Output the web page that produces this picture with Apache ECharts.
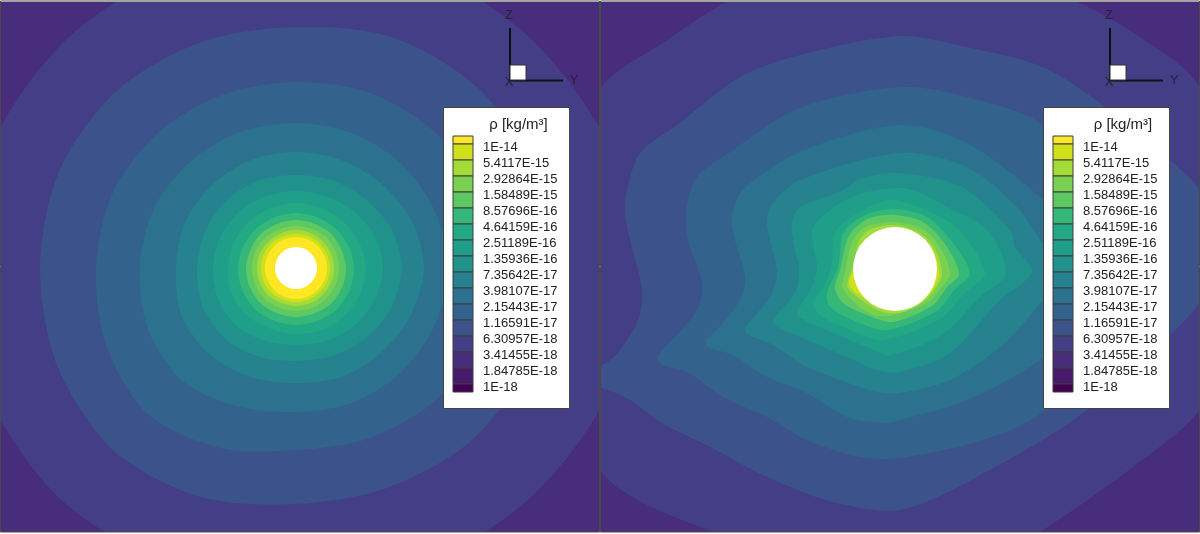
<!DOCTYPE html>
<html>
<head>
<meta charset="utf-8">
<style>
  html, body { margin: 0; padding: 0; background: #fff; }
  #chart { width: 1200px; height: 534px; }
</style>
<script src="https://cdn.jsdelivr.net/npm/echarts@6/dist/echarts.min.js"></script>
</head>
<body>
<div id="chart"></div>
<script>
// colorbar, top to bottom
const legendLabels = ["1E-14", "5.4117E-15", "2.92864E-15", "1.58489E-15", "8.57696E-16", "4.64159E-16",
    "2.51189E-16", "1.35936E-16", "7.35642E-17", "3.98107E-17", "2.15443E-17", "1.16591E-17",
    "6.30957E-18", "3.41455E-18", "1.84785E-18", "1E-18"];
const legendColors = ["#fde725", "#d0e11c", "#a5db36", "#7ad151", "#5ec962", "#35b779", "#22a884", "#1f9e89",
    "#21918c", "#26828e", "#2c728e", "#33638d", "#3b528b", "#433e85", "#472d7b", "#481a6c", "#440154"];

// fill inside each contour, outermost first
const cornerColor = "#472d7b";
const bandColors = ["#433e85", "#3b528b", "#33638d", "#2c728e", "#26828e", "#21918c", "#1f9e89", "#22a884",
    "#35b779", "#5ec962", "#7ad151", "#a5db36", "#d0e11c", "#fde725"];

const sphereRadius = [21, 42];

// left plot: contour radius read at fixed azimuths (deg, counter-clockwise from +Y)
const azimuths = [0, 22.5, 45, 67.5, 90, 112.5, 135, 157.5, 180, 202.5, 225, 247.5, 270, 292.5, 315, 337.5];
const leftRadii = [
    [340, 335, 328, 324, 322, 321, 324, 328, 330, 333, 330, 322, 320, 322, 328, 336],
    [262, 259, 256, 250, 241, 245, 252, 256, 256, 258, 258, 248, 236, 238, 246, 252],
    [205, 200, 194, 190, 186, 188, 193, 198, 200, 205, 208, 195, 182, 185, 192, 200],
    [152, 150, 148, 146, 145, 147, 150, 154, 156, 160, 160, 150, 144, 146, 148, 150],
    [128, 125, 120, 117, 116, 117, 118, 120, 120, 124, 122, 118, 115, 118, 120, 124],
    [106, 103, 98, 95, 93, 95, 97, 98, 99, 101, 100, 96, 93, 95, 99, 103],
    [87, 85, 81, 78, 77, 78, 80, 82, 83, 84, 83, 79, 77, 79, 82, 85],
    [70, 68, 66, 65, 65, 65, 66, 67, 68, 69, 68, 66, 66, 67, 68, 69],
    [58, 57, 56, 55, 55, 55, 56, 57, 58, 58, 58, 57, 57, 57, 58, 58],
    [50, 49, 49, 48, 48, 48, 49, 49, 50, 50, 50, 49, 49, 49, 50, 50],
    [43, 43, 43, 42, 42, 42, 43, 44, 44, 44, 44, 43, 43, 43, 43, 43],
    [38, 38, 38, 38, 38, 38, 38, 39, 39, 39, 39, 38, 38, 38, 38, 38],
    [34, 34, 34, 34, 34, 34, 35, 35, 35, 35, 35, 34, 34, 34, 34, 34],
    [31, 31, 31, 31, 31, 31, 31, 31, 31, 31, 31, 31, 31, 31, 31, 31]
];

// right plot: contour vertices as [y, z] around the sphere centre
const rightA = [[345, 30], [305, 181], [245, 232], [178, 269], [60, 310], [-60, 310], [-165, 269], [-228, 229], [-295, 181], [-345, 80], [-360, -60], [-295, -201], [-252, -234], [-176, -265], [-60, -310], [60, -310], [145, -263], [238, -198], [305, -141], [345, -60]];
const rightB = [[330, 25], [305, 79], [275, 109], [205, 166], [148, 202], [72, 222], [5, 233], [-95, 214], [-155, 192], [-218, 144], [-255, 116], [-268, 79], [-270, 56], [-265, 29], [-253, -21], [-257, -51], [-275, -81], [-293, -96], [-335, -108], [-293, -119], [-265, -131], [-235, -153], [-185, -178], [-128, -208], [-62, -233], [5, -241], [82, -208], [192, -141], [305, -34]];
const rightC = [[235, -2], [200, 75], [148, 144], [72, 172], [5, 182], [-95, 161], [-162, 119], [-198, 92], [-208, 62], [-207, 29], [-193, -14], [-198, -41], [-235, -84], [-238, -88], [-232, -96], [-208, -103], [-172, -128], [-128, -148], [-88, -171], [-35, -188], [5, -189], [88, -171], [148, -143], [200, -80]];
const rightD = [[195, -5], [170, 40], [148, 69], [72, 126], [5, 144], [-95, 117], [-152, 79], [-163, 52], [-160, 29], [-150, -8], [-155, -31], [-178, -61], [-188, -71], [-187, -78], [-162, -86], [-128, -108], [-88, -124], [-48, -148], [-12, -154], [5, -151], [72, -131], [148, -88], [175, -45]];
const rightE = [[165, -3], [145, 29], [122, 62], [72, 102], [5, 116], [-95, 89], [-122, 66], [-128, 49], [-125, 29], [-118, -4], [-125, -28], [-150, -59], [-148, -65], [-122, -76], [-92, -96], [-55, -111], [-18, -123], [5, -124], [55, -111], [105, -78], [148, -31]];
const rightF = [[137, -3], [120, 22], [115, 39], [67, 82], [5, 96], [-32, 91], [-58, 76], [-95, 62], [-103, 47], [-102, 29], [-96, -1], [-100, -24], [-122, -51], [-118, -58], [-88, -71], [-48, -88], [-18, -101], [5, -103], [55, -84], [105, -31]];
const rightG = [[111, -4], [92, 39], [52, 62], [18, 79], [0, 81], [-32, 76], [-58, 64], [-82, 42], [-82, 22], [-78, 2], [-83, -18], [-98, -43], [-95, -49], [-62, -64], [-28, -78], [-5, -86], [48, -65], [85, -28]];
const rightH = [[90, -4], [65, 38], [38, 56], [0, 69], [-22, 64], [-48, 49], [-60, 36], [-63, 6], [-70, -15], [-82, -34], [-75, -46], [-45, -61], [-12, -71], [45, -50], [70, -24]];
const rightI = [[75, -5], [58, 26], [32, 52], [0, 60], [-25, 56], [-45, 44], [-53, 32], [-57, 2], [-68, -24], [-65, -38], [-38, -53], [-8, -61], [42, -42], [60, -20]];
const rightJ = [[64, -5], [50, 25], [28, 47], [0, 54], [-25, 51], [-40, 41], [-48, 29], [-55, -1], [-60, -19], [-52, -34], [-28, -46], [-2, -53], [38, -36], [52, -18]];
const rightK = [[55, -5], [45, 22], [28, 40], [0, 47], [-25, 44], [-35, 38], [-44, 24], [-50, -4], [-53, -18], [-43, -31], [-22, -46], [-2, -46], [33, -33], [45, -20]];
const rightL = [[47, -5], [40, 20], [25, 36], [0, 44], [-24, 40], [-36, 28], [-41, 5], [-47, -11], [-47, -19], [-35, -30], [-15, -42], [5, -44], [28, -33], [40, -20]];
const rightM = [[44, -5], [38, 18], [20, 35], [0, 40], [-30, 28], [-40, 0], [-46, -13], [-38, -25], [0, -40], [25, -33], [38, -20]];

const leftContours = leftRadii.map(function (radii) {
    return radii.map(function (r, i) {
        const a = azimuths[i] * Math.PI / 180;
        return [r * Math.cos(a), r * Math.sin(a)];
    });
});
const rightContours = [rightA, rightB, rightC, rightD, rightE, rightF, rightG, rightH, rightI, rightJ, rightK, rightL, rightM];

function contourSeries(panel, contours) {
    return {
        type: "custom",
        coordinateSystem: "cartesian2d",
        xAxisIndex: panel,
        yAxisIndex: panel,
        clip: true,
        silent: true,
        z: 2,
        data: contours.map(function (c, i) { return [0, 0, i]; }).concat([[0, 0, -1]]),
        renderItem: function (params, api) {
            const idx = api.value(2);
            if (idx < 0) {
                const c = api.coord([0, 0]);
                const edge = api.coord([sphereRadius[panel], 0]);
                return {
                    type: "circle",
                    shape: { cx: c[0], cy: c[1], r: edge[0] - c[0] },
                    style: { fill: "#fff" }
                };
            }
            return {
                type: "polygon",
                shape: {
                    points: contours[idx].map(function (p) { return api.coord(p); }),
                    smooth: 0.3
                },
                style: { fill: bandColors[idx] }
            };
        }
    };
}

function legendSeries(panel) {
    return {
        type: "custom",
        coordinateSystem: "cartesian2d",
        xAxisIndex: panel + 2,
        yAxisIndex: panel + 2,
        clip: false,
        silent: true,
        z: 20,
        // each cell runs between two labels, the end cells are half as tall
        data: legendColors.map(function (c, i) {
            return [Math.max(i - 1, -0.5), Math.min(i, 15.5)];
        }),
        renderItem: function (params, api) {
            const a = api.coord([0, api.value(0)]);
            const b = api.coord([1, api.value(1)]);
            return {
                type: "rect",
                shape: { x: a[0], y: a[1], width: b[0] - a[0], height: b[1] - a[1] },
                style: { fill: legendColors[params.dataIndex], stroke: "#3c3c3c", lineWidth: 1 }
            };
        }
    };
}

const hiddenX = function (idx, min, max) {
    return { type: "value", gridIndex: idx, min: min, max: max, show: false };
};

const option = {
    backgroundColor: "#fff",
    animation: false,
    grid: [
        { left: 1, top: 2, width: 598, height: 530, show: true, borderWidth: 0, backgroundColor: cornerColor },
        { left: 601, top: 2, width: 598, height: 530, show: true, borderWidth: 0, backgroundColor: cornerColor },
        { left: 453, top: 144, width: 20, height: 240 },
        { left: 1053, top: 144, width: 20, height: 240 }
    ],
    xAxis: [hiddenX(0, -295, 303), hiddenX(1, -294, 304), hiddenX(2, 0, 1), hiddenX(3, 0, 1)],
    yAxis: [
        { type: "value", gridIndex: 0, min: -264, max: 266, show: false },
        { type: "value", gridIndex: 1, min: -263, max: 267, show: false }
    ].concat([2, 3].map(function (idx) {
        return {
            type: "value",
            gridIndex: idx,
            min: 0,
            max: 15,
            interval: 1,
            inverse: true,
            position: "right",
            z: 30,
            axisLine: { show: false },
            axisTick: { show: false },
            splitLine: { show: false },
            axisLabel: {
                show: true,
                margin: 10,
                color: "#222",
                fontFamily: "Liberation Sans",
                fontSize: 13,
                verticalAlign: "top",
                lineHeight: 6,
                hideOverlap: false,
                showMinLabel: true,
                showMaxLabel: true,
                formatter: function (v) { return legendLabels[v]; }
            }
        };
    })),
    series: [
        contourSeries(0, leftContours),
        contourSeries(1, rightContours),
        legendSeries(0),
        legendSeries(1)
    ],
    graphic: [0, 600].reduce(function (els, dx) {
        const line = function (x1, y1, x2, y2) {
            return { type: "line", z: 12, shape: { x1: x1 + dx, y1: y1, x2: x2 + dx, y2: y2 }, style: { stroke: "#111", lineWidth: 2 } };
        };
        const axisName = function (t, x, y) {
            return {
                type: "text", z: 12, x: x + dx, y: y,
                style: { text: t, fill: "#23233a", font: "13px 'Liberation Sans'", align: "center", verticalAlign: "middle" }
            };
        };
        return els.concat([
            { type: "rect", z: 11, shape: { x: dx + 0.5, y: 1, width: 599, height: 531 }, style: { fill: "none", stroke: "#4a4a4a", lineWidth: 1 } },
            line(510, 28, 510, 81),
            line(510, 80.5, 563, 80.5),
            { type: "rect", z: 13, shape: { x: dx + 510, y: 65, width: 16, height: 15 }, style: { fill: "#fff", stroke: "#333", lineWidth: 1 } },
            axisName("Z", 509, 15),
            axisName("Y", 574, 80),
            axisName("X", 509, 82),
            { type: "rect", z: 14, shape: { x: dx + 443.5, y: 107.5, width: 126, height: 301 }, style: { fill: "#fff", stroke: "#444", lineWidth: 1 } },
            {
                type: "text", z: 15, x: dx + (dx ? 523 : 518.5), y: 125,
                style: { text: "\u03c1 [kg/m\u00b3]", fill: "#222", font: "15px 'Liberation Sans'", align: "center", verticalAlign: "middle" }
            }
        ]);
    }, [])
};

const myChart = echarts.init(document.getElementById("chart"), null, { renderer: "canvas" });
myChart.setOption(option);
</script>
</body>
</html>
